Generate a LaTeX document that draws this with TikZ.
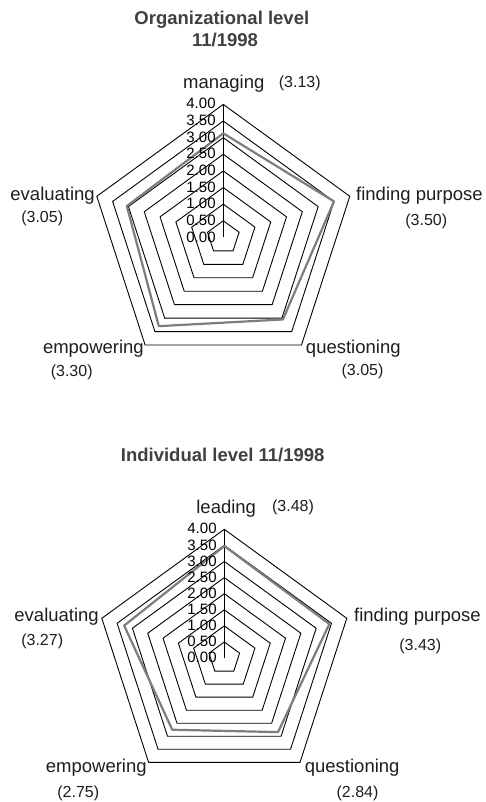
\documentclass[tikz,border=0pt]{standalone}
\usepackage{fontspec}
\setmainfont{Liberation Sans}
\definecolor{datagray}{RGB}{125,125,125}
\definecolor{titlegray}{RGB}{64,64,64}
\definecolor{labeltext}{RGB}{30,30,30}

% pentagon grid of a radar chart with radius \rr: 8 rings and the vertical axis
\newcommand{\radarframe}{%
  \foreach \k in {1,...,8}{%
    \path[ring] (90:{\rr*\k/8}) -- (18:{\rr*\k/8}) -- (-54:{\rr*\k/8})
      -- (-126:{\rr*\k/8}) -- (162:{\rr*\k/8}) -- cycle;
  }%
  \draw[axisline] (0,0) -- (90:\rr);
}
% scale labels beside the vertical axis
\newcommand{\radarticks}{%
  \foreach \k/\tv in {0/0.00,1/0.50,2/1.00,3/1.50,4/2.00,5/2.50,6/3.00,7/3.50,8/4.00}{%
    \node[tick] (tick\k) at (-7.5,{\rr*\k/8-4.6}) {\tv};
  }%
}
% data polygon: values on the axes at 90, 18, -54, -126 and 162 degrees
\newcommand{\radarvalues}[5]{%
  \draw[dataline] (90:{\rr*#1/4}) -- (18:{\rr*#2/4}) -- (-54:{\rr*#3/4})
    -- (-126:{\rr*#4/4}) -- (162:{\rr*#5/4}) -- cycle;
}

\begin{document}
\begin{tikzpicture}[x=1pt,y=1pt,
  ring/.style={draw=black, line width=0.9pt, line join=miter},
  axisline/.style={draw=black, line width=0.9pt},
  dataline/.style={draw=datagray, line width=2.2pt, line join=round},
  ttl/.style={inner sep=0pt, text=titlegray, anchor=base,
    font=\fontsize{18.5}{22}\selectfont\bfseries},
  lbl/.style={inner sep=0pt, text=labeltext, font=\fontsize{18.5}{22}\selectfont},
  val/.style={inner sep=0pt, text=labeltext, anchor=base,
    font=\fontsize{16}{19}\selectfont},
  tick/.style={inner sep=0pt, text=black, anchor=base east,
    font=\fontsize{15}{18}\selectfont}]
\path[use as bounding box, fill=white] (0,0) rectangle (485,-802);

% ---------- organizational level ----------
\node[ttl] (orgtitle1) at (221.8,-25) {Organizational level};
\node[ttl] (orgtitle2) at (225,-46.7) {11/1998};
\begin{scope}[shift={(223.3,-237.4)}, name prefix=org-]
  \def\rr{133}
  \radarframe
  \radarvalues{3.13}{3.50}{3.05}{3.30}{3.05}
  \radarticks
\end{scope}
\node[lbl, anchor=base] (orgmanaging) at (223.8,-89) {managing};
\node[val] (orgmanagingv) at (299.8,-88) {(3.13)};
\node[lbl, anchor=base west] (orgpurpose) at (356,-200.8) {finding purpose};
\node[val] (orgpurposev) at (426.3,-225.3) {(3.50)};
\node[lbl, anchor=base east] (orgevaluating) at (95,-200.8) {evaluating};
\node[val] (orgevaluatingv) at (42.2,-222.7) {(3.05)};
\node[lbl, anchor=base] (orgempowering) at (93.4,-353.8) {empowering};
\node[val] (orgempoweringv) at (71.7,-376.5) {(3.30)};
\node[lbl, anchor=base] (orgquestioning) at (353.3,-353.8) {questioning};
\node[val] (orgquestioningv) at (362.5,-375.5) {(3.05)};

% ---------- individual level ----------
\node[ttl] (indtitle) at (222.7,-461.7) {Individual level 11/1998};
\begin{scope}[shift={(224.3,-658.1)}, name prefix=ind-]
  \def\rr{128.8}
  \radarframe
  \radarvalues{3.48}{3.43}{2.84}{2.75}{3.27}
  \radarticks
\end{scope}
\node[lbl, anchor=base] (indleading) at (226.2,-513.1) {leading};
\node[val] (indleadingv) at (293,-511.7) {(3.48)};
\node[lbl, anchor=base west] (indpurpose) at (354,-621.4) {finding purpose};
\node[val] (indpurposev) at (420.3,-650.5) {(3.43)};
\node[lbl, anchor=base east] (indevaluating) at (99,-621.4) {evaluating};
\node[val] (indevaluatingv) at (42.2,-645) {(3.27)};
\node[lbl, anchor=base] (indempowering) at (96.3,-772.5) {empowering};
\node[val] (indempoweringv) at (78.3,-797.2) {(2.75)};
\node[lbl, anchor=base] (indquestioning) at (352.2,-772.5) {questioning};
\node[val] (indquestioningv) at (357.5,-797) {(2.84)};
\end{tikzpicture}
\end{document}
